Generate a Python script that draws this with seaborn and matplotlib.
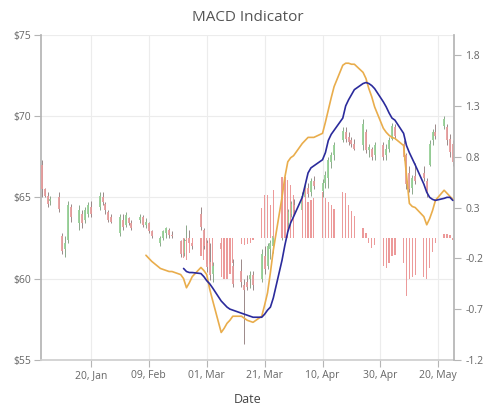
import matplotlib
matplotlib.use("Agg")
import matplotlib.pyplot as plt
import matplotlib.dates as mdates
import numpy as np
import pandas as pd
import seaborn as sns

# trading days shown on the chart
dates = pd.bdate_range("2017-01-03", "2017-05-25")

opens = [67.0, 65.5, 65.1, 64.8, 65.0, 62.6, 61.8, 62.4, 64.4, 63.4,
         64.0, 63.6, 64.0, 64.4, 64.4, 65.0, 64.6, 64.1, 63.8, 62.8,
         63.6, 63.3, 63.7, 63.4, 63.6, 63.8, 63.3, 63.4, 62.9, 62.2,
         62.5, 62.8, 63.0, 62.7, 62.3, 61.6, 62.3, 62.5, 62.2, 64.0,
         63.0, 62.2, 61.0, 60.3, 62.2, 60.5, 61.6, 61.8, 60.8, 60.5,
         59.6, 59.8, 60.0, 60.2, 60.0, 61.4, 60.8, 61.8, 62.0, 62.6,
         63.5, 63.4, 64.0, 64.5, 64.2, 65.0, 65.6, 65.3, 66.0, 65.4,
         65.9, 66.2, 67.2, 67.6, 68.5, 69.0, 68.7, 68.5, 68.3, 68.2,
         69.0, 67.9, 68.0, 67.6, 68.2, 67.6, 68.0, 68.6, 69.3, 68.3,
         67.6, 66.5, 65.6, 66.3, 66.5, 66.0, 67.0, 68.5, 69.0, 69.4,
         69.3, 68.6, 68.3]
highs = [67.3, 65.6, 65.3, 65.1, 65.3, 62.8, 62.6, 64.8, 64.6, 64.5,
         64.2, 64.4, 64.7, 64.8, 65.3, 65.3, 64.7, 64.2, 64.0, 64.0,
         64.0, 64.1, 63.8, 63.6, 64.0, 63.9, 63.7, 63.5, 63.0, 62.6,
         63.0, 63.2, 63.1, 62.9, 62.4, 62.5, 63.3, 63.0, 62.4, 64.4,
         63.1, 62.4, 62.2, 61.0, 62.4, 61.4, 62.3, 62.4, 61.2, 61.2,
         60.0, 60.2, 60.5, 60.5, 61.8, 62.0, 62.2, 62.4, 62.8, 63.8,
         64.2, 64.3, 64.8, 64.9, 65.3, 65.9, 65.9, 66.2, 66.3, 66.1,
         66.6, 67.5, 67.8, 68.4, 69.3, 69.3, 69.0, 68.7, 68.6, 69.8,
         69.2, 68.3, 68.1, 68.4, 68.4, 68.3, 68.7, 69.6, 69.5, 68.5,
         67.7, 66.9, 66.4, 67.1, 66.9, 66.2, 68.5, 69.2, 69.5, 70.0,
         69.5, 68.9, 68.5]
lows = [65.0, 65.0, 64.4, 64.5, 64.1, 61.5, 61.3, 62.2, 63.5, 63.0,
        63.1, 63.4, 63.8, 63.8, 64.2, 64.5, 64.0, 63.5, 63.4, 62.6,
        63.0, 63.2, 63.3, 63.0, 63.4, 63.2, 63.1, 62.8, 62.5, 62.0,
        62.4, 62.5, 62.5, 62.5, 61.3, 61.4, 62.0, 62.1, 61.8, 63.0,
        61.8, 60.4, 59.9, 59.8, 61.6, 60.4, 61.0, 60.7, 59.5, 59.5,
        56.0, 59.3, 59.4, 59.3, 59.8, 60.3, 60.6, 61.2, 61.6, 62.4,
        63.0, 63.1, 63.8, 64.0, 64.0, 64.8, 65.0, 65.1, 65.5, 65.0,
        65.6, 65.6, 66.8, 67.3, 68.4, 68.4, 68.2, 68.1, 67.9, 67.9,
        67.7, 67.5, 67.3, 67.3, 67.3, 67.3, 67.8, 68.5, 68.6, 67.3,
        65.5, 65.3, 65.2, 65.8, 66.0, 65.0, 66.9, 68.2, 68.6, 69.2,
        68.2, 67.5, 66.9]
closes = [65.5, 65.1, 64.6, 64.9, 64.3, 61.7, 62.2, 64.5, 63.8, 64.2,
          63.4, 64.2, 64.5, 64.0, 65.1, 64.7, 64.2, 63.6, 63.5, 63.8,
          63.2, 63.9, 63.4, 63.1, 63.8, 63.3, 63.5, 62.9, 62.6, 62.5,
          62.9, 63.1, 62.7, 62.6, 61.5, 62.3, 62.4, 62.2, 62.0, 63.2,
          62.0, 60.7, 60.2, 60.8, 61.8, 61.2, 61.2, 61.0, 59.7, 59.8,
          59.3, 59.5, 60.2, 59.6, 61.5, 60.6, 62.0, 62.2, 62.6, 63.6,
          63.3, 64.1, 64.6, 64.2, 65.1, 65.7, 65.2, 66.0, 65.7, 65.9,
          66.4, 67.3, 67.6, 68.2, 69.1, 68.6, 68.4, 68.3, 68.0, 69.5,
          67.9, 68.1, 67.5, 68.2, 67.5, 68.0, 68.5, 69.4, 68.8, 67.5,
          65.8, 65.5, 66.2, 66.0, 66.2, 65.3, 68.3, 69.0, 68.8, 69.8,
          68.5, 67.8, 67.2]

macd = [np.nan] * 26 + [
    -0.17, -0.20, -0.23, -0.30, -0.31, -0.32, -0.33, -0.33, -0.36, -0.40,
    -0.49, -0.44, -0.38, -0.29, -0.32, -0.36, -0.50, -0.61, -0.93, -0.89,
    -0.84, -0.81, -0.77, -0.77, -0.79, -0.81, -0.82, -0.83, -0.77, -0.66,
    -0.54, -0.34, -0.12, 0.40, 0.60, 0.75, 0.79, 0.81, 0.93, 0.96,
    0.99, 0.99, 0.99, 1.03, 1.14, 1.26, 1.38, 1.49, 1.70, 1.72,
    1.72, 1.71, 1.71, 1.63, 1.57, 1.47, 1.39, 1.29, 1.08, 1.04,
    1.01, 0.99, 0.98, 0.91, 0.62, 0.34, 0.31, 0.30, 0.21, 0.13,
    0.19, 0.27, 0.37, 0.47, 0.44, 0.41, 0.38]
signal = [np.nan] * 35 + [
    -0.30, -0.33, -0.34, -0.34, -0.35, -0.38, -0.42, -0.45, -0.49,
    -0.62, -0.65, -0.68, -0.70, -0.71, -0.74, -0.75, -0.76, -0.77, -0.78,
    -0.78, -0.75, -0.71, -0.68, -0.59, -0.22, -0.07, 0.06, 0.15, 0.21,
    0.40, 0.52, 0.64, 0.69, 0.71, 0.77, 0.84, 0.96, 1.02, 1.06,
    1.18, 1.30, 1.36, 1.41, 1.46, 1.52, 1.53, 1.52, 1.50, 1.47,
    1.34, 1.29, 1.23, 1.18, 1.16, 1.03, 0.91, 0.84, 0.78, 0.72,
    0.53, 0.45, 0.40, 0.38, 0.37, 0.39, 0.40, 0.40, 0.37]
histogram = [np.nan] * 35 + [
    -0.20, -0.22, -0.15, -0.08, -0.18, -0.22, -0.26, -0.26, -0.28,
    -0.38, -0.40, -0.40, -0.35, -0.25, -0.06, -0.07, -0.06, -0.05, -0.02,
    0.30, 0.42, 0.42, 0.32, 0.47, 0.60, 0.60, 0.57, 0.52, 0.42,
    0.42, 0.49, 0.35, 0.37, 0.39, 0.45, 0.39, 0.35, 0.32, 0.29,
    0.45, 0.44, 0.32, 0.27, 0.22, 0.10, 0.05, -0.05, -0.10, -0.07,
    -0.28, -0.30, -0.25, -0.18, -0.17, -0.25, -0.57, -0.40, -0.38, -0.36,
    -0.38, -0.40, -0.30, -0.14, -0.05, 0.04, 0.04, 0.03, -0.02]

tick_dates = pd.to_datetime(["2017-01-20", "2017-02-09", "2017-03-01", "2017-03-21",
                             "2017-04-10", "2017-04-30", "2017-05-20"])
price_ticks = [55, 60, 65, 70, 75]
macd_ticks = [-1.2, -0.7, -0.2, 0.3, 0.8, 1.3, 1.8]

sns.set_theme(style="white")
plt.rcParams["font.family"] = ["Open Sans", "DejaVu Sans"]

df = pd.DataFrame({"date": dates, "open": opens, "high": highs, "low": lows,
                   "close": closes, "macd": macd, "signal": signal, "hist": histogram})

fig = plt.figure(figsize=(5, 4.09), dpi=100)
ax = fig.add_axes([0.082, 0.12, 0.826, 0.795])
ax2 = ax.twinx()

# candles
up = df["close"] >= df["open"]
body_colors = np.where(up, "#95cf95", "#e79c9c")
wick_colors = np.where(up, "#7a9a7a", "#8c7676")
ax.vlines(df["date"], df["low"], df["high"], colors=wick_colors, lw=0.6, zorder=2)
ax.vlines(df["date"], df[["open", "close"]].min(axis=1), df[["open", "close"]].max(axis=1),
          colors=body_colors, lw=1.3, zorder=3)

# histogram + lines on secondary axis
ax2.bar(df["date"], df["hist"], width=0.45, color="#ec9a9a", linewidth=0, zorder=1)
sns.lineplot(data=df, x="date", y="macd", ax=ax2, color="#e9ad4c", lw=1.2, zorder=3)
sns.lineplot(data=df, x="date", y="signal", ax=ax2, color="#2b2b9c", lw=1.2, zorder=4)

# axes styling
x0 = mdates.date2num(pd.Timestamp("2017-01-02 18:00"))
x1 = mdates.date2num(pd.Timestamp("2017-05-25 10:00"))
ax.set_xlim(x0, x1)
ax.set_ylim(55, 75)
ax2.set_ylim(-1.2, 2.0)

ax.set_xticks(tick_dates)
ax.xaxis.set_major_formatter(mdates.DateFormatter("%d, %b"))
ax.set_yticks(price_ticks)
ax.set_yticklabels([f"${v}" for v in price_ticks])
ax2.set_yticks(macd_ticks)
ax2.set_yticklabels([f"{v:g}" for v in macd_ticks])

for a in (ax, ax2):
    for s in a.spines.values():
        s.set_visible(False)
ax.spines["left"].set_visible(True)
ax.spines["left"].set_color("#b5b5b5")
ax.spines["bottom"].set_visible(True)
ax.spines["bottom"].set_color("#cfcfcf")
ax2.spines["right"].set_visible(True)
ax2.spines["right"].set_color("#b5b5b5")

ax.grid(True, color="#ececec", lw=0.8)
ax.set_axisbelow(True)
ax2.grid(False)

ax.tick_params(axis="both", length=5, width=0.8, color="#b5b5b5", labelsize=7.5,
               labelcolor="#666666", pad=2, left=True, bottom=True)
ax2.tick_params(axis="y", length=5, width=0.8, color="#b5b5b5", labelsize=7.5,
                labelcolor="#666666", pad=3, right=True)

ax.set_ylabel("")
ax2.set_ylabel("")
ax2.set_xlabel("")
ax.set_xlabel("Date", fontsize=9, color="#444444", labelpad=9)

fig.text(0.495, 0.958, "MACD Indicator", ha="center", va="center", fontsize=11, color="#555555")

fig.savefig("out.png", dpi=100)
